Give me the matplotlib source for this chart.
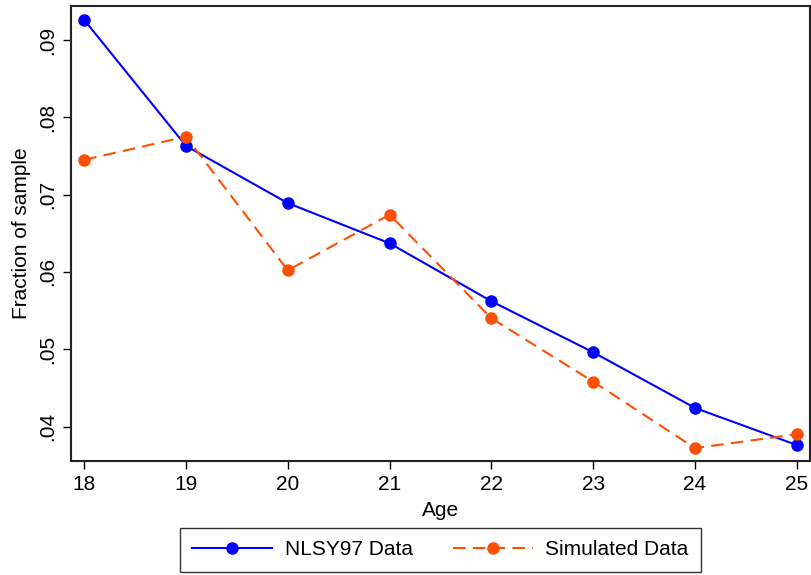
import matplotlib.pyplot as plt

plt.rcParams['font.family'] = ['Liberation Sans', 'DejaVu Sans']

ages = [18, 19, 20, 21, 22, 23, 24, 25]
nlsy = [0.0926, 0.0763, 0.0689, 0.0637, 0.0562, 0.0496, 0.0424, 0.0376]
simulated = [0.0745, 0.0775, 0.0602, 0.0674, 0.0540, 0.0458, 0.0372, 0.0390]
yticks = [0.04, 0.05, 0.06, 0.07, 0.08, 0.09]
ylabels = ['.04', '.05', '.06', '.07', '.08', '.09']

fig = plt.figure(figsize=(8.11, 5.75), dpi=100)
ax = fig.add_axes([0.0875, 0.1983, 0.9113, 0.7913])

ax.plot(ages, nlsy, color='#0000ff', lw=1.5, marker='o', ms=8,
        label='NLSY97 Data')
ax.plot(ages, simulated, color='#ff4f00', lw=1.5, marker='o', ms=8,
        dashes=(6, 3.5), label='Simulated Data')

ax.set_xlim(17.87, 25.13)
ax.set_ylim(0.03554, 0.0944)
ax.set_xticks(ages)
ax.set_yticks(yticks)
ax.set_yticklabels(ylabels, rotation=90, va='center')
ax.tick_params(labelsize=15, length=6, width=1, color='black', pad=4)
ax.set_xlabel('Age', fontsize=15, labelpad=5)
ax.set_ylabel('Fraction of sample', fontsize=15, labelpad=5)
for s in ax.spines.values():
    s.set_linewidth(1.5)
    s.set_color('#222222')

leg = fig.legend(loc='lower center', bbox_to_anchor=(0.543, 0.002), ncol=2,
                 fontsize=15, frameon=True, fancybox=False, edgecolor='black',
                 handlelength=3.85, columnspacing=1.9, borderpad=0.6,
                 borderaxespad=0.1, handletextpad=0.6)
leg.get_frame().set_linewidth(1.0)

fig.savefig('out.png', dpi=100)
